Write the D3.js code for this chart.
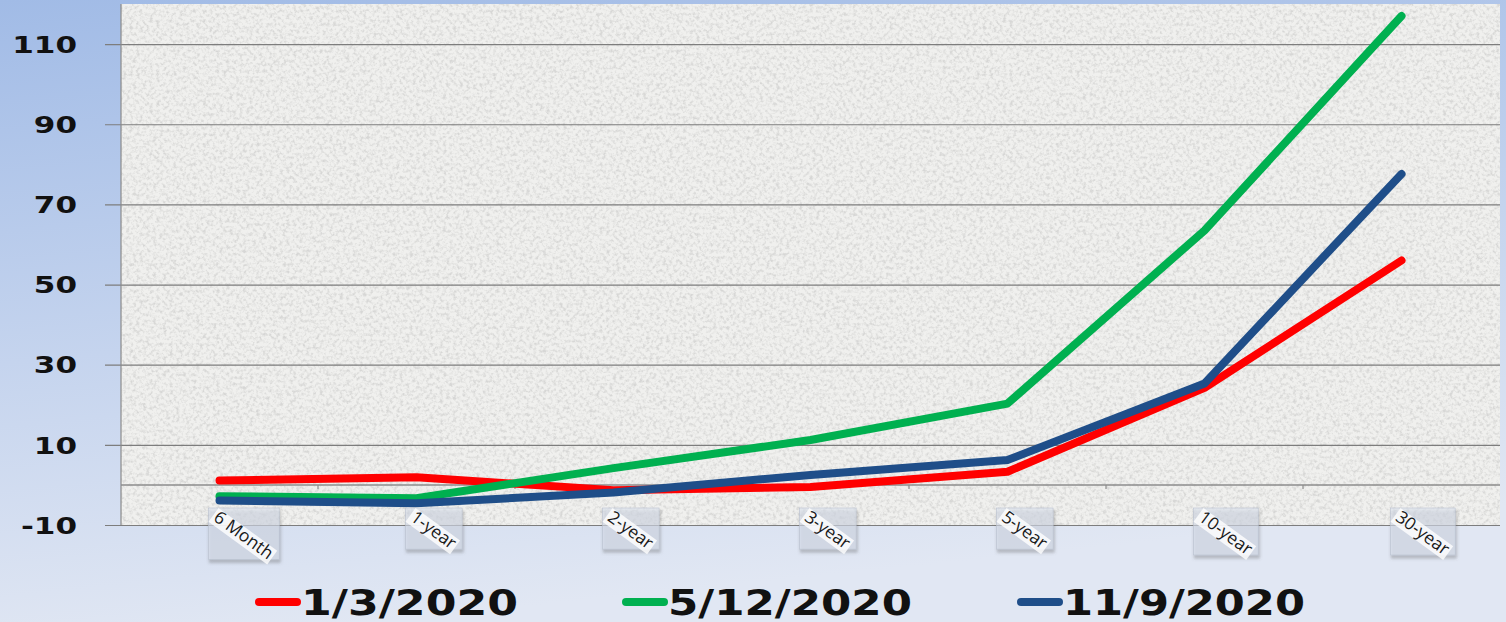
<!DOCTYPE html>
<html>
<head>
<meta charset="utf-8">
<script src="https://cdn.jsdelivr.net/npm/d3@7"></script>
<style>
  html, body { margin: 0; padding: 0; overflow: hidden; }
  svg { display: block; }
</style>
</head>
<body>
<svg id="chart" width="1506" height="622"></svg>
<script>
// ---- data ----
const categories = ["6 Month", "1-year", "2-year", "3-year", "5-year", "10-year", "30-year"];
const seriesNames = ["1/3/2020", "5/12/2020", "11/9/2020"];
const jan3 = [1.1, 1.9, -1.3, -0.5, 3.3, 24.2, 56];
const may12 = [-2.8, -3.3, 4.2, 11.2, 20.3, 63.5, 117];
const nov9 = [-3.9, -4.6, -1.9, 2.5, 6.2, 25.3, 77.6];
const yTicks = [-10, 10, 30, 50, 70, 90, 110];

// ---- styles / layout ----
const colors = ["#ff0000", "#00b050", "#1f4e89"];
const W = 1506, H = 622;
const plot = { left: 121, right: 1500, top: 4, bottom: 525 };

const svg = d3.select("#chart");
const defs = svg.append("defs");

const bgGrad = defs.append("linearGradient").attr("id", "bgGrad")
  .attr("x1", 0).attr("y1", 0).attr("x2", 0.25).attr("y2", 1);
bgGrad.append("stop").attr("offset", "0%").attr("stop-color", "#a1bbe6");
bgGrad.append("stop").attr("offset", "55%").attr("stop-color", "#c5d4ee");
bgGrad.append("stop").attr("offset", "100%").attr("stop-color", "#e1e7f3");

const granite = defs.append("filter").attr("id", "granite")
  .attr("x", 0).attr("y", 0).attr("width", "100%").attr("height", "100%");
granite.append("feTurbulence").attr("type", "fractalNoise").attr("baseFrequency", 0.3)
  .attr("numOctaves", 3).attr("seed", 7).attr("result", "n");
granite.append("feColorMatrix").attr("in", "n").attr("type", "matrix")
  .attr("values", "0 0 0 0 0.68  0 0 0 0 0.68  0 0 0 0 0.67  2.8 0 0 0 -1.2").attr("result", "spots");
granite.append("feComposite").attr("in", "spots").attr("in2", "SourceGraphic").attr("operator", "over");

const shadow = defs.append("filter").attr("id", "shadow")
  .attr("x", "-20%").attr("y", "-20%").attr("width", "150%").attr("height", "150%");
shadow.append("feDropShadow").attr("dx", 1).attr("dy", 3).attr("stdDeviation", 1.5)
  .attr("flood-color", "#555").attr("flood-opacity", 0.55);

svg.append("rect").attr("width", W).attr("height", H).attr("fill", "url(#bgGrad)");

svg.append("rect")
  .attr("x", plot.left).attr("y", plot.top)
  .attr("width", plot.right - plot.left).attr("height", plot.bottom - plot.top)
  .attr("fill", "#f0f0ee").attr("filter", "url(#granite)");

// ---- scales ----
const x = d3.scaleBand().domain(categories).range([plot.left, plot.right]);
const y = d3.scaleLinear().domain([-10, 120]).range([plot.bottom, plot.top]);
const cx = c => x(c) + x.bandwidth() / 2;

// gridlines (with outward ticks)
const grid = svg.append("g").attr("transform", `translate(${plot.right},0)`)
  .call(d3.axisLeft(y).tickValues(yTicks).tickSize(plot.right - 105).tickFormat(""));
grid.select(".domain").remove();
grid.selectAll(".tick line").attr("stroke", "#7d7d7d").attr("stroke-width", 1.2);

// y axis line
svg.append("line").attr("x1", plot.left).attr("x2", plot.left)
  .attr("y1", plot.top).attr("y2", plot.bottom)
  .attr("stroke", "#8a8a8a").attr("stroke-width", 1.2);

// y labels
const yLab = svg.append("g").attr("transform", "translate(77,0)")
  .call(d3.axisLeft(y).tickValues(yTicks).tickSize(0).tickPadding(0).tickFormat(d => String(d)));
yLab.select(".domain").remove();
yLab.selectAll(".tick text")
  .attr("x", 0).attr("dy", "0.36em")
  .attr("transform", "scale(1.35,1)")
  .style("font-family", "DejaVu Sans").style("font-weight", "bold")
  .style("font-size", "23px").attr("fill", "#111");

// zero (category) axis
const xAxis = svg.append("g").attr("transform", `translate(0,${y(0)})`);
xAxis.append("line").attr("x1", plot.left).attr("x2", plot.right)
  .attr("stroke", "#8c8c8c").attr("stroke-width", 1.5);
xAxis.selectAll("line.tk").data(categories.slice(1)).join("line").attr("class", "tk")
  .attr("x1", d => x(d)).attr("x2", d => x(d)).attr("y1", 0).attr("y2", 4)
  .attr("stroke", "#8c8c8c").attr("stroke-width", 1.2);

// ---- lines ----
const series = [jan3, may12, nov9];
const line = d3.line().x((d, i) => cx(categories[i])).y(d => y(d));
svg.append("g").selectAll("path").data(series).join("path")
  .attr("d", d => line(d))
  .attr("fill", "none")
  .attr("stroke", (d, i) => colors[i])
  .attr("stroke-width", 8)
  .attr("stroke-linejoin", "round")
  .attr("stroke-linecap", "round");

// ---- category labels (rotated in shadowed boxes) ----
const ang = 36, a = ang * Math.PI / 180;
categories.forEach(c => {
  const g = svg.append("g").attr("transform", `translate(${cx(c) - 11},508)`);
  const box = g.append("rect");
  const tg = g.append("g").attr("transform", `translate(10,0) rotate(${ang})`);
  const bg = tg.append("rect");
  const t = tg.append("text").text(c).attr("x", 2).attr("y", 13)
    .style("font-family", "Open Sans").style("font-size", "17.5px").attr("fill", "#1a1a1a");
  const L = t.node().getComputedTextLength() + 4;
  const hh = 17;
  bg.attr("x", 0).attr("y", 0).attr("width", L).attr("height", hh)
    .attr("fill", "#ffffff").attr("opacity", 0.8);
  const bw = 10 + L * Math.cos(a) + 2;
  const bh = L * Math.sin(a) + hh * Math.cos(a) - 5;
  box.attr("x", 0).attr("y", 0).attr("width", bw).attr("height", bh)
    .attr("fill", "#dde4f1").attr("fill-opacity", 0.55)
    .attr("stroke", "#b9c1cf").attr("stroke-width", 0.6)
    .attr("filter", "url(#shadow)");
  g.node().appendChild(tg.node());
});

// ---- legend ----
const legX = [255, 622, 1017];
const legW = [217, 244, 242];
const leg = svg.append("g");
seriesNames.forEach((n, i) => {
  leg.append("line").attr("x1", legX[i] + 4).attr("x2", legX[i] + 42)
    .attr("y1", 602).attr("y2", 602)
    .attr("stroke", colors[i]).attr("stroke-width", 8).attr("stroke-linecap", "round");
  leg.append("text").text(n).attr("x", legX[i] + 46).attr("y", 615)
    .attr("textLength", legW[i]).attr("lengthAdjust", "spacingAndGlyphs")
    .style("font-family", "DejaVu Sans").style("font-weight", "bold")
    .style("font-size", "35px").attr("fill", "#111");
});
</script>
</body>
</html>
